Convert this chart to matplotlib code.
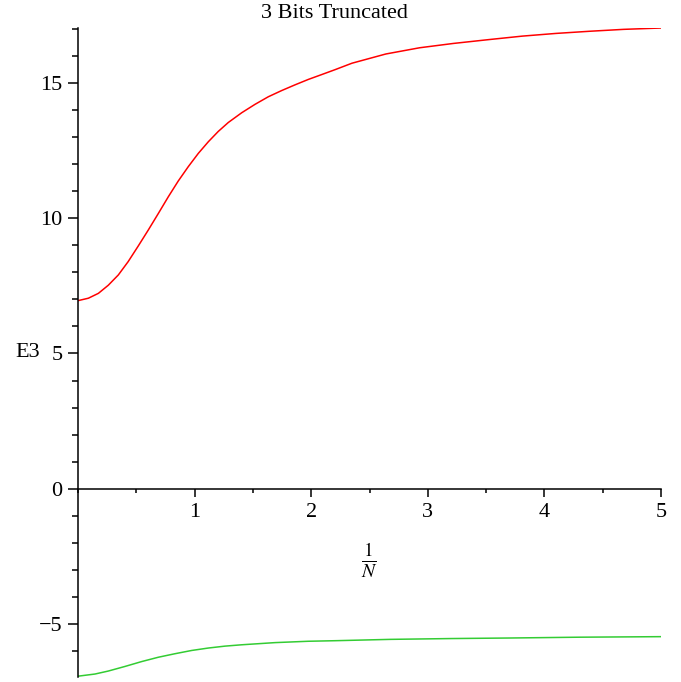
import numpy as np
import matplotlib
matplotlib.use("Agg")
import matplotlib.pyplot as plt
from matplotlib.ticker import MultipleLocator, FixedLocator

plt.rcParams["font.family"] = ["Liberation Serif", "DejaVu Serif"]
plt.rcParams["mathtext.fontset"] = "stix"

# values
x_red = [0, 0.089, 0.175, 0.26, 0.346, 0.43, 0.517, 0.603, 0.689, 0.775, 0.86, 0.946,
         1.032, 1.118, 1.203, 1.289, 1.404, 1.518, 1.632, 1.747, 1.861, 1.975, 2.09,
         2.204, 2.35, 2.64, 2.93, 3.22, 3.52, 3.81, 4.1, 4.39, 4.68, 5.0]
y_red = [6.95, 7.04, 7.22, 7.52, 7.9, 8.39, 8.97, 9.56, 10.17, 10.79, 11.37, 11.9,
         12.39, 12.82, 13.2, 13.53, 13.89, 14.2, 14.48, 14.71, 14.92, 15.12, 15.3,
         15.48, 15.72, 16.06, 16.29, 16.45, 16.59, 16.72, 16.82, 16.9, 16.97, 17.02]

x_green = [0, 0.146, 0.26, 0.403, 0.546, 0.689, 0.832, 0.975, 1.118, 1.26, 1.404,
           1.69, 1.975, 2.2, 2.68, 3.2, 3.7, 4.3, 5.0]
y_green = [-6.92, -6.84, -6.73, -6.56, -6.38, -6.22, -6.09, -5.97, -5.88, -5.81, -5.76,
           -5.68, -5.63, -5.61, -5.56, -5.53, -5.51, -5.48, -5.46]

x_ticks = [1, 2, 3, 4, 5]
y_ticks = [-5, 0, 5, 10, 15]

fig = plt.figure(figsize=(6.81, 6.82), dpi=100)
ax = fig.add_axes([78 / 681, 5 / 682, 583 / 681, 649 / 682])

ax.plot(x_red, y_red, color="#ff0000", lw=1.1)
ax.plot(x_green, y_green, color="#33cc33", lw=1.1)

ax.set_xlim(0, 5)
ax.set_ylim(-6.95, 17.02)

ax.spines["left"].set_position(("data", 0))
ax.spines["bottom"].set_position(("data", 0))
ax.spines["top"].set_visible(False)
ax.spines["right"].set_visible(False)
for s in ("left", "bottom"):
    ax.spines[s].set_linewidth(1.1)

ax.xaxis.set_major_locator(FixedLocator(x_ticks))
ax.xaxis.set_minor_locator(MultipleLocator(0.5))
ax.yaxis.set_major_locator(FixedLocator(y_ticks))
ax.yaxis.set_minor_locator(MultipleLocator(1))

ax.tick_params(axis="x", which="major", length=6, width=1.1, labelsize=16, pad=4)
ax.tick_params(axis="x", which="minor", length=3, width=1.1)
ax.tick_params(axis="y", which="major", length=7, width=1.1, labelsize=16, pad=4)
ax.tick_params(axis="y", which="minor", length=4.3, width=1.1)

ax.set_xlabel(r"$\frac{1}{N}$", fontsize=20)
ax.xaxis.set_label_coords(0.5, 0.21)
ax.set_ylabel("E3", fontsize=16, rotation=0, va="center", ha="center")
ax.yaxis.set_label_coords(-0.086, 0.5)

fig.text(334 / 681, 1 - 14 / 682, "3 Bits Truncated", fontsize=16, ha="center", va="center")

fig.savefig("out.png", dpi=100)
